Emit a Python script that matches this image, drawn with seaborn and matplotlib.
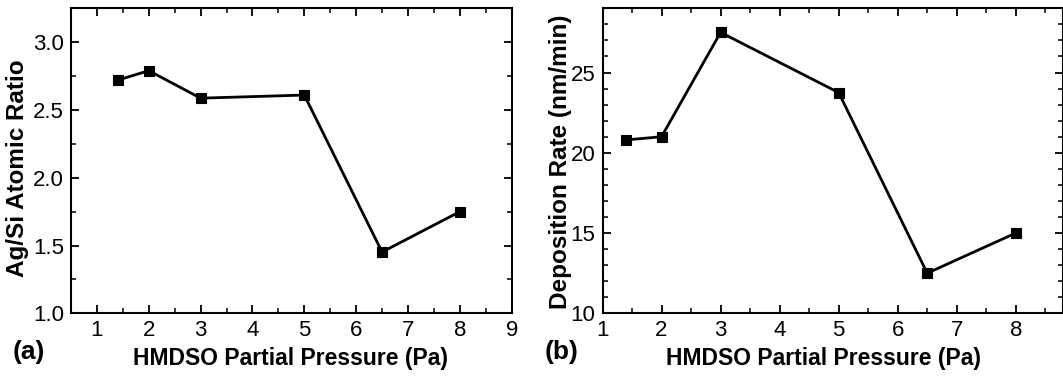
import matplotlib
matplotlib.use("Agg")
import matplotlib.pyplot as plt
import seaborn as sns
import pandas as pd
from matplotlib.ticker import MultipleLocator

# Data
pressure = [1.4, 2.0, 3.0, 5.0, 6.5, 8.0]
ag_si_ratio = [2.72, 2.79, 2.587, 2.61, 1.452, 1.75]
dep_rate = [20.8, 21.0, 27.5, 23.75, 12.5, 15.0]

xlabel = "HMDSO Partial Pressure (Pa)"
ylabel_a = "Ag/Si Atomic Ratio"
ylabel_b = "Deposition Rate (nm/min)"

sns.set_style("ticks")
plt.rcParams['font.family'] = ['Liberation Sans', 'DejaVu Sans']
plt.rcParams['text.color'] = 'black'
plt.rcParams['axes.labelcolor'] = 'black'
plt.rcParams['xtick.color'] = 'black'
plt.rcParams['ytick.color'] = 'black'

fig = plt.figure(figsize=(10.63, 3.78), dpi=100)
W, H = 1063, 378
ax_a = fig.add_axes([71 / W, (H - 313.3) / H, (511.7 - 71) / W, (313.3 - 8.3) / H])
ax_b = fig.add_axes([602.5 / W, (H - 313.3) / H, (1063 - 602.5) / W, (313.3 - 8.3) / H])

df_a = pd.DataFrame({"x": pressure, "y": ag_si_ratio})
df_b = pd.DataFrame({"x": pressure, "y": dep_rate})

for ax, df in ((ax_a, df_a), (ax_b, df_b)):
    sns.lineplot(data=df, x="x", y="y", ax=ax, color="black", marker="s",
                 markersize=7, linewidth=2.0, markeredgecolor="black",
                 markeredgewidth=0.8, sort=False)
    for s in ax.spines.values():
        s.set_visible(True)
        s.set_linewidth(1.5)
        s.set_color("black")
    ax.tick_params(which="both", direction="in", top=True, right=True,
                   colors="black", labelsize=16, pad=5)
    ax.tick_params(which="major", length=6, width=1.3)
    ax.tick_params(which="minor", length=3.5, width=1.1)
    ax.set_xlabel(xlabel, fontsize=16.5, fontweight="bold", color="black")
    ax.xaxis.label.set_va("top")

ax_a.set_xlim(0.5, 9)
ax_a.set_ylim(1.0, 3.25)
ax_a.xaxis.set_major_locator(MultipleLocator(1))
ax_a.xaxis.set_minor_locator(MultipleLocator(0.5))
ax_a.yaxis.set_major_locator(MultipleLocator(0.5))
ax_a.yaxis.set_minor_locator(MultipleLocator(0.25))
ax_a.yaxis.set_major_formatter(matplotlib.ticker.FormatStrFormatter("%.1f"))
ax_a.set_ylabel(ylabel_a, fontsize=17.5, fontweight="bold", color="black")
ax_a.xaxis.set_label_coords((290.5 - 71) / 440.7, -(347 - 313.3) / 305)
ax_a.yaxis.set_label_coords((29 - 71) / 440.7, (313.3 - 168.5) / 305)

ax_b.set_xlim(1, 8.8)
ax_b.set_ylim(10, 29)
ax_b.xaxis.set_major_locator(MultipleLocator(1))
ax_b.xaxis.set_minor_locator(MultipleLocator(0.5))
ax_b.yaxis.set_major_locator(MultipleLocator(5))
ax_b.yaxis.set_minor_locator(MultipleLocator(1))
ax_b.set_ylabel(ylabel_b, fontsize=17.5, fontweight="bold", color="black")
ax_b.xaxis.set_label_coords((824 - 602.5) / 460.5, -(347 - 313.3) / 305)
ax_b.yaxis.set_label_coords((572 - 602.5) / 460.5, (313.3 - 161.5) / 305)

fig.text(13 / W, 1 - 352 / H, "(a)", fontsize=19, fontweight="bold", va="center", ha="left", color="black")
fig.text(545 / W, 1 - 352 / H, "(b)", fontsize=19, fontweight="bold", va="center", ha="left", color="black")

fig.savefig("out.png", dpi=100)
